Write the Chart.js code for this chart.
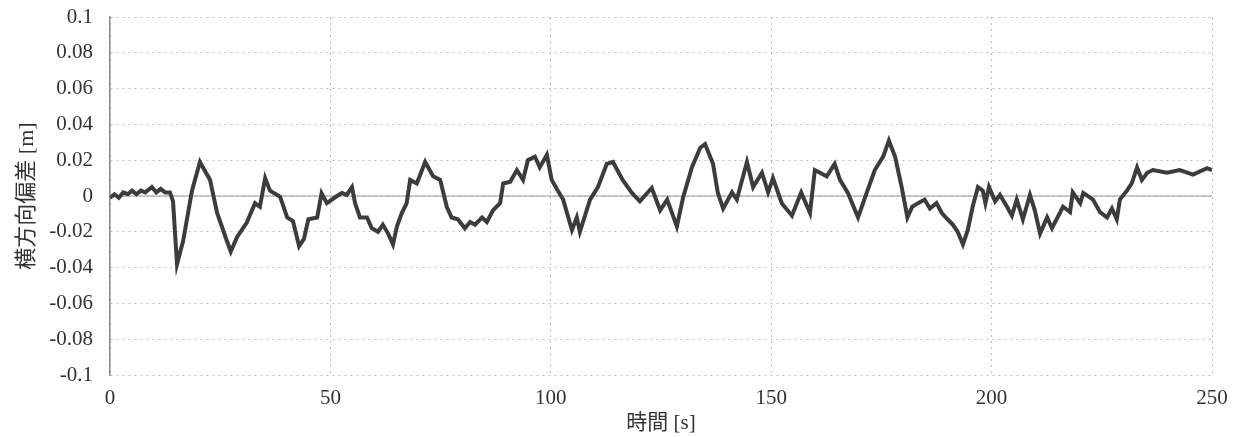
<!DOCTYPE html>
<html>
<head>
<meta charset="utf-8">
<script src="https://cdn.jsdelivr.net/npm/chart.js@4"></script>
<style>
  body { margin: 0; background: #fff; }
  #wrap { width: 1233px; height: 437px; }
</style>
</head>
<body>
<div id="wrap"><canvas id="graficaDesvio"></canvas></div>
<script>
// 時間 [s]
const timeS = [
  0, 1, 2, 3, 4, 5, 6, 7, 8, 9.5, 10.5, 11.5, 12.5, 13.6, 14.3, 15.2, 16.6, 18.6, 20.4, 22.7,
  24.3, 26.5, 27.4, 28.8, 31, 32.9, 34, 35.2, 36.3, 38.6, 40.2, 41.5, 42.9, 44, 45, 47, 48, 49.2,
  51.5, 52.6, 53.7, 54.9, 55.6, 56.7, 58.3, 59.4, 60.8, 61.9, 63.1, 64.2, 65.1, 66.2, 67.3, 68.1, 69.6,
  71.5, 73.3,
  74.9, 76.4, 77.5, 78.9, 80.5, 81.7, 82.8, 84.4, 85.5, 86.9, 88.5, 89.2, 90.8, 92.3, 93.7, 94.8, 96.4, 97.5, 99.1, 100.2, 101.6,
  102.8, 104.8, 105.9, 106.6, 108.9, 110.7, 112.7, 114.1, 116.3, 118.4,
  120.2, 122.9, 124.8, 126.4, 128.6, 130, 132, 133.9, 135, 136.8,
  137.9, 139.1, 141.1, 142.2, 144.5, 145.9, 147.9, 149.3, 150.4, 152.4,
  154.7, 156.8, 158.8, 159.9, 162.6, 164.4, 165.6, 167.4, 169.7, 171.7,
  173.5, 175.4, 176.7, 178.1,
  179.6, 180.9, 182, 183.3, 184.8, 186, 187.5, 188.7, 190, 191.2,
  192.3, 193.5, 194.6, 195.7, 196.9, 198, 198.6, 199.4, 200.8, 201.9,
  203.5, 204.6, 205.7, 207.1, 208.7, 209.8, 211, 212.6, 213.7, 216.2,
  217.8, 218.4, 220.1, 220.8, 223, 224.6, 226.2, 227.3, 228.4, 229.1,
  230.7, 231.8, 233, 234.1, 235.3, 236.6, 239.8, 242.7, 245.7, 248.9, 250
];

// 横方向偏差 [m]
const deviationM = [
  -0.001, 0.001, -0.001, 0.002, 0.001, 0.003, 0.001, 0.003, 0.002, 0.005, 0.002, 0.004, 0.002, 0.002, -0.003, -0.038, -0.025, 0.003, 0.019, 0.009,
  -0.0095, -0.025, -0.031, -0.023, -0.015, -0.004, -0.006, 0.010, 0.003, -0.0005, -0.012, -0.014, -0.028, -0.024, -0.013, -0.012, 0.0015, -0.004,
  0, 0.0017, 0.0006, 0.005, -0.004, -0.012, -0.012, -0.018, -0.020, -0.016, -0.021, -0.027, -0.017, -0.0095, -0.004, 0.009, 0.007,
  0.019, 0.011,
  0.009, -0.006, -0.012, -0.013, -0.018, -0.0145, -0.016, -0.012, -0.0145, -0.008, -0.004, 0.007, 0.008, 0.0145, 0.009, 0.020, 0.022, 0.016, 0.023, 0.009, 0.003,
  -0.002, -0.019, -0.012, -0.020, -0.002, 0.005, 0.018, 0.019, 0.009, 0.0017,
  -0.003, 0.0045, -0.008, -0.002, -0.017, -0.001, 0.016, 0.027, 0.029, 0.018,
  0.0017, -0.007, 0.002, -0.002, 0.019, 0.005, 0.013, 0.002, 0.010, -0.004,
  -0.011, 0.002, -0.0095, 0.0145, 0.011, 0.018, 0.009, 0.0017, -0.012, 0.002,
  0.0145, 0.022, 0.031, 0.022,
  0.005, -0.012, -0.006, -0.004, -0.002, -0.007, -0.004, -0.0095, -0.013, -0.016,
  -0.020, -0.027, -0.019, -0.006, 0.005, 0.003, -0.004, 0.005, -0.003, 0.0006,
  -0.006, -0.011, -0.002, -0.013, 0.0006, -0.008, -0.021, -0.012, -0.018, -0.006,
  -0.009, 0.002, -0.004, 0.0017, -0.002, -0.009, -0.012, -0.007, -0.013, -0.002,
  0.003, 0.007, 0.016, 0.009, 0.013, 0.0145, 0.013, 0.0145, 0.012, 0.0155, 0.0145
];

// línea de referencia en 0
const zeroLineX = [0, 250];
const zeroLineY = [0, 0];

const xTicks = [0, 50, 100, 150, 200, 250];
const yTicks = [0.1, 0.08, 0.06, 0.04, 0.02, 0, -0.02, -0.04, -0.06, -0.08, -0.1];

const fuente = "'Liberation Serif', 'Noto Sans CJK JP', serif";

const ctx = document.getElementById("graficaDesvio").getContext("2d");

new Chart(ctx, {
    type: "line",
    data: {
        datasets: [{
            label: "偏差",
            data: timeS.map((t, i) => ({ x: t, y: deviationM[i] })),
            borderColor: "#3c3c3c",
            borderWidth: 4,
            pointRadius: 0,
            tension: 0,
            order: 1
        }, {
            label: "0",
            data: zeroLineX.map((t, i) => ({ x: t, y: zeroLineY[i] })),
            borderColor: "#9a9a9a",
            borderWidth: 1.2,
            pointRadius: 0,
            order: 2
        }]
    },
    options: {
        responsive: true,
        maintainAspectRatio: false,
        animation: false,
        layout: { padding: { top: 17, right: 21, left: 0, bottom: 0 } },
        plugins: {
            legend: { display: false },
            tooltip: { enabled: false }
        },
        scales: {
            x: {
                type: "linear",
                min: 0,
                max: 250,
                afterFit: s => { s.height = 62; s.paddingLeft = 0; s.paddingRight = 0; },
                afterBuildTicks: s => { s.ticks = xTicks.map(v => ({ value: v })); },
                ticks: {
                    padding: 11,
                    color: "#333",
                    font: { family: fuente, size: 21 }
                },
                grid: { color: "#bdbdbd", lineWidth: 1, drawTicks: false },
                border: { display: false, dash: [2, 4] },
                title: {
                    display: true,
                    text: "時間 [s]",
                    color: "#333",
                    font: { family: fuente, size: 21 },
                    padding: { top: 0, bottom: 1 }
                }
            },
            y: {
                min: -0.1,
                max: 0.1,
                afterFit: s => { s.width = 110; s.paddingTop = 0; s.paddingBottom = 0; },
                afterBuildTicks: s => { s.ticks = yTicks.map(v => ({ value: v })); },
                ticks: {
                    padding: 17,
                    color: "#333",
                    font: { family: fuente, size: 21 },
                    callback: v => String(Number(v.toFixed(2)))
                },
                grid: { color: "#bdbdbd", lineWidth: 1, drawTicks: false },
                border: { display: true, color: "#8a8a8a", width: 1.5, dash: [2, 4] },
                title: {
                    display: true,
                    text: "横方向偏差 [m]",
                    color: "#333",
                    font: { family: fuente, size: 22 },
                    padding: { top: 14, bottom: 0 }
                }
            }
        }
    }
});
</script>
</body>
</html>
